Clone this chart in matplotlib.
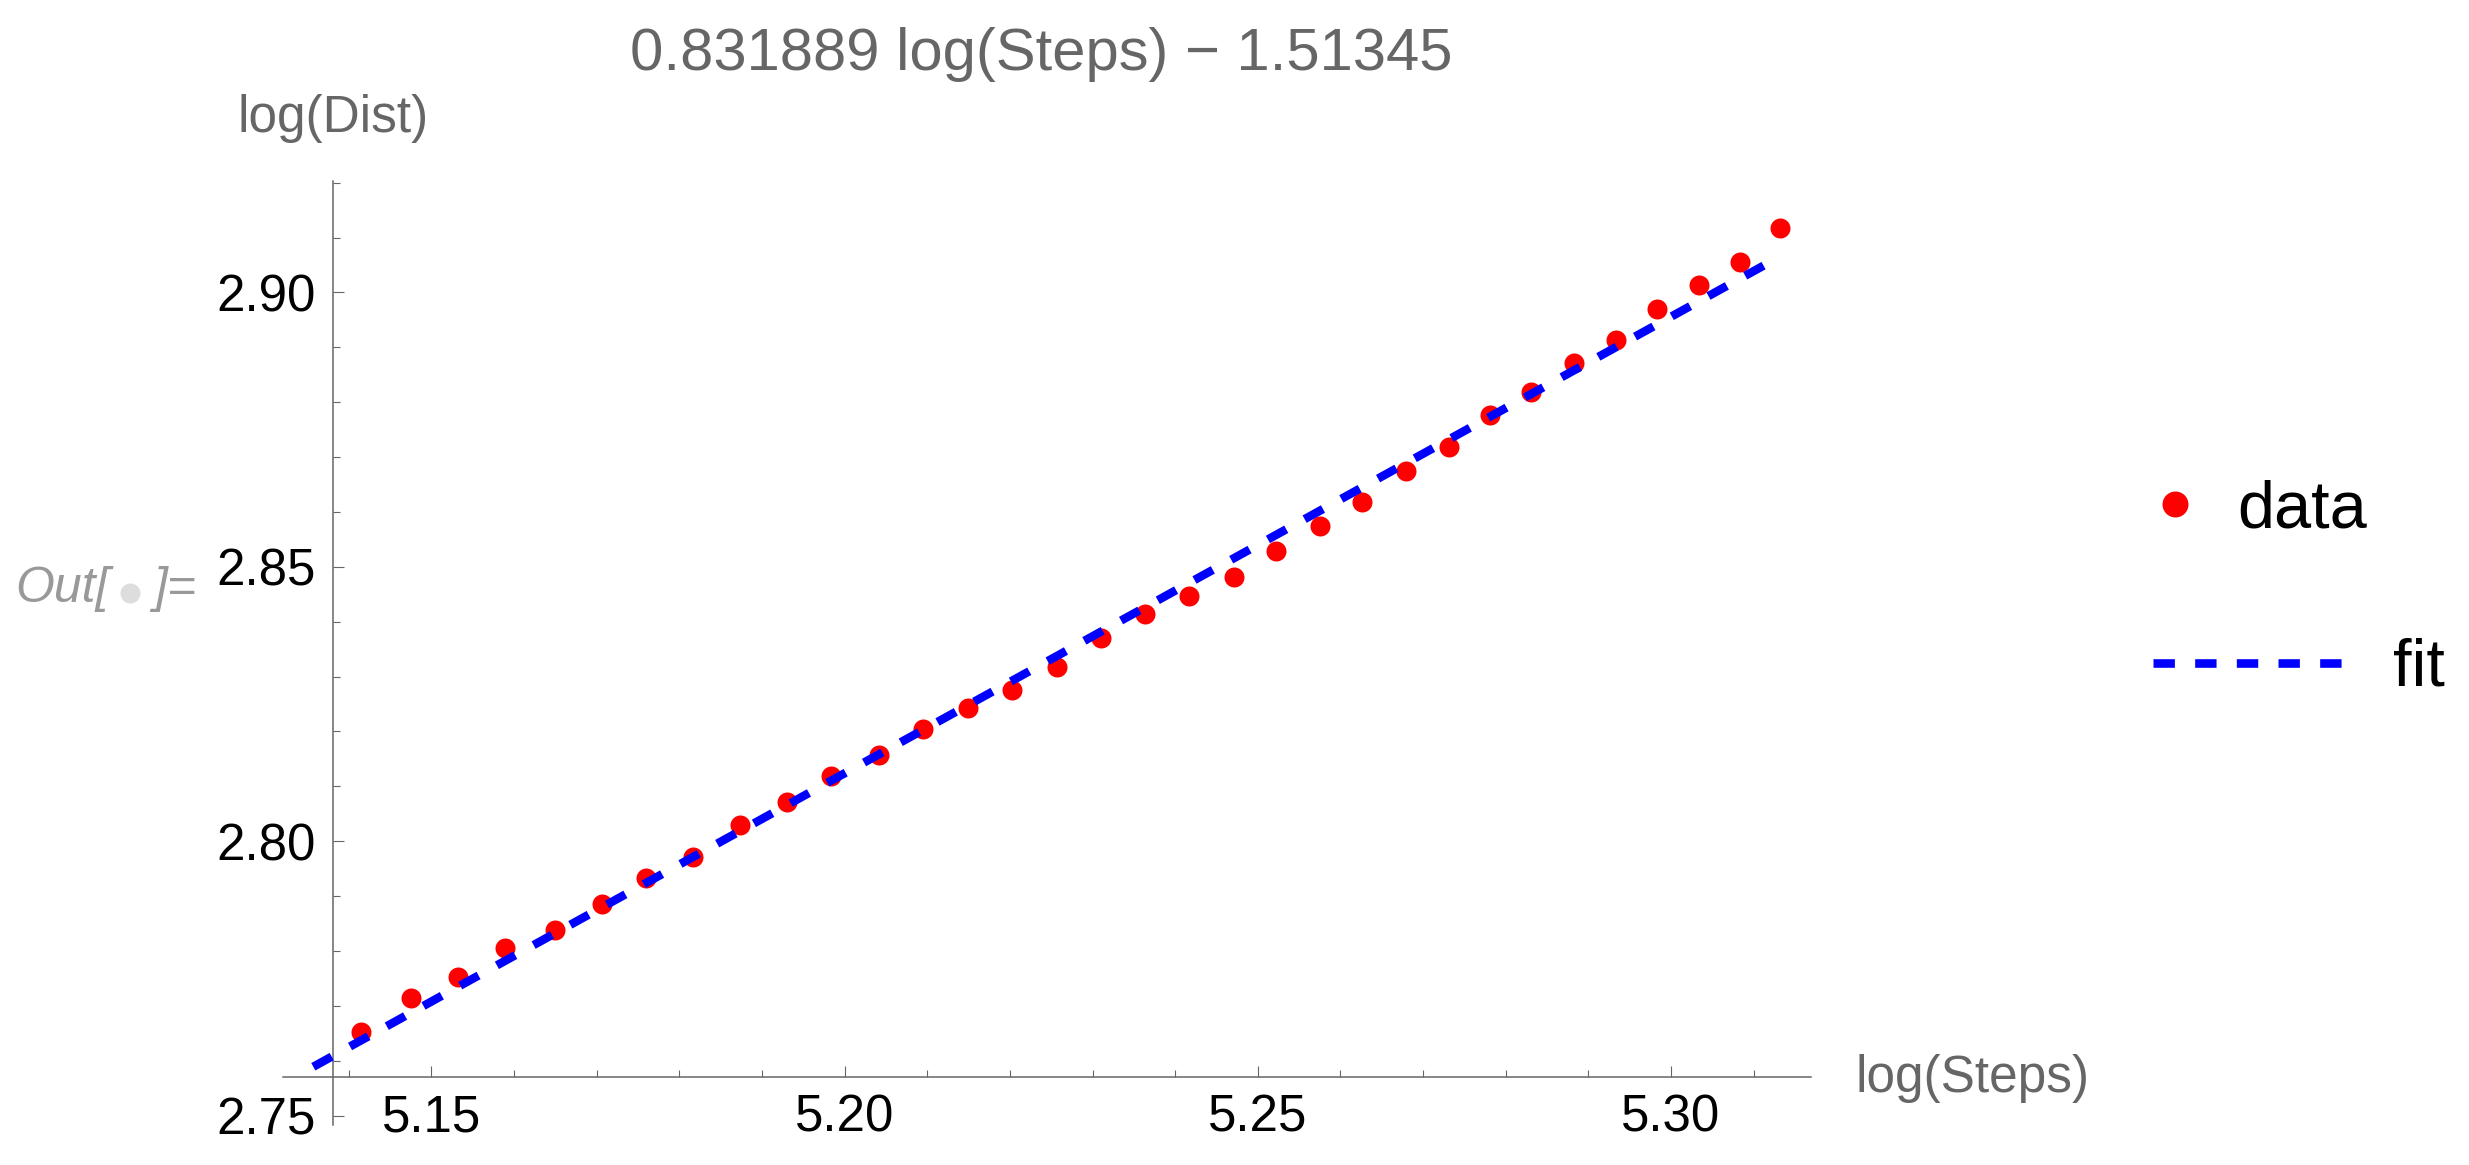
import matplotlib
matplotlib.use("Agg")
import matplotlib.pyplot as plt
from matplotlib.lines import Line2D
from matplotlib.ticker import MultipleLocator, FormatStrFormatter

# data
log_steps = [5.1415, 5.1475, 5.1532, 5.1589, 5.1649, 5.1706, 5.1759, 5.1816,
             5.1873, 5.1930, 5.1983, 5.2041, 5.2095, 5.2149, 5.2202, 5.2257,
             5.2310, 5.2364, 5.2417, 5.2471, 5.2522, 5.2575, 5.2626, 5.2679,
             5.2731, 5.2781, 5.2831, 5.2882, 5.2933, 5.2983, 5.3034, 5.3084,
             5.3132]
log_dist = [2.7652, 2.7715, 2.7753, 2.7805, 2.7838, 2.7886, 2.7933, 2.7972,
            2.8029, 2.8071, 2.8119, 2.8157, 2.8205, 2.8243, 2.8276, 2.8318,
            2.8371, 2.8414, 2.8447, 2.8481, 2.8528, 2.8575, 2.8618, 2.8675,
            2.8718, 2.8776, 2.8818, 2.8872, 2.8914, 2.8970, 2.9014, 2.9056,
            2.9118]

# fit from the title
slope = 0.831889
intercept = -1.51345
fit_x = [5.1357, 5.3132]
fit_y = [slope * x + intercept for x in fit_x]

W, H, DPI = 2469, 1165, 100
GRAY = '#666666'

plt.rcParams['font.family'] = ['Liberation Sans', 'DejaVu Sans']
plt.rcParams['lines.scale_dashes'] = False

fig = plt.figure(figsize=(W / DPI, H / DPI), dpi=DPI)
ax = fig.add_axes([283 / W, 40 / H, (1811 - 283) / W, (1125 - 181) / H])
ax.patch.set_visible(False)

ax.plot(log_steps, log_dist, 'o', color='red', markersize=14.4,
        markeredgewidth=0, clip_on=False, zorder=3)
ax.plot(fit_x, fit_y, color='blue', linewidth=6.1, dashes=(15.1, 15.1),
        dash_capstyle='butt', solid_capstyle='butt', clip_on=False, zorder=4)

ax.set_xlim(5.13203, 5.31694)
ax.set_ylim(2.74827, 2.92030)

for side in ['top', 'right']:
    ax.spines[side].set_visible(False)
ax.spines['left'].set_position(('data', 5.13805))
ax.spines['bottom'].set_position(('data', 2.75701))
for side in ['left', 'bottom']:
    ax.spines[side].set_color(GRAY)
    ax.spines[side].set_linewidth(1.1)

ax.xaxis.set_major_locator(MultipleLocator(0.05))
ax.xaxis.set_minor_locator(MultipleLocator(0.01))
ax.yaxis.set_major_locator(MultipleLocator(0.05))
ax.yaxis.set_minor_locator(MultipleLocator(0.01))
ax.xaxis.set_major_formatter(FormatStrFormatter('%.2f'))
ax.yaxis.set_major_formatter(FormatStrFormatter('%.2f'))

ax.tick_params(which='both', direction='in', color=GRAY, width=0.8,
               labelsize=36.7, labelcolor='black')
ax.tick_params(which='major', length=7.9)
ax.tick_params(which='minor', length=4.7)
ax.tick_params(axis='y', which='major', pad=12)
ax.tick_params(axis='x', which='major', pad=12)

# title and axis labels
fig.text(630 / W, 1 - 70 / H, '0.831889 log(Steps) \u2212 1.51345',
         fontsize=43, color=GRAY, ha='left', va='baseline')
fig.text(333 / W, 1 - 132 / H, 'log(Dist)', fontsize=37, color=GRAY,
         ha='center', va='baseline')
fig.text(1856 / W, 1 - 1092 / H, 'log(Steps)', fontsize=37, color=GRAY,
         ha='left', va='baseline')

# legend drawn by hand (labels sit at different offsets)
fig.add_artist(Line2D([2175 / W], [1 - 504 / H], marker='o', color='red',
                      markersize=18.7, markeredgewidth=0, linestyle='none',
                      transform=fig.transFigure))
fig.text(2237 / W, 1 - 527 / H, 'data', fontsize=48, color='black',
         ha='left', va='baseline')
fig.add_artist(Line2D([2153 / W, 2342 / W], [1 - 663 / H, 1 - 663 / H],
                      color='blue', linewidth=6.2, dashes=(15.4, 14.6),
                      dash_capstyle='butt', transform=fig.transFigure))
fig.text(2393 / W, 1 - 686 / H, 'fit', fontsize=48, color='black',
         ha='left', va='baseline')

# notebook output label
fig.text(15 / W, 1 - 602 / H, 'Out[', fontsize=36, color='#999999',
         style='italic', ha='left', va='baseline')
fig.add_artist(Line2D([130 / W], [1 - 593 / H], marker='o', color='#dddddd',
                      markersize=14.4, markeredgewidth=0, linestyle='none',
                      transform=fig.transFigure))
fig.text(196 / W, 1 - 602 / H, ']=', fontsize=36, color='#999999',
         style='italic', ha='right', va='baseline')

fig.savefig('out.png', dpi=DPI)
